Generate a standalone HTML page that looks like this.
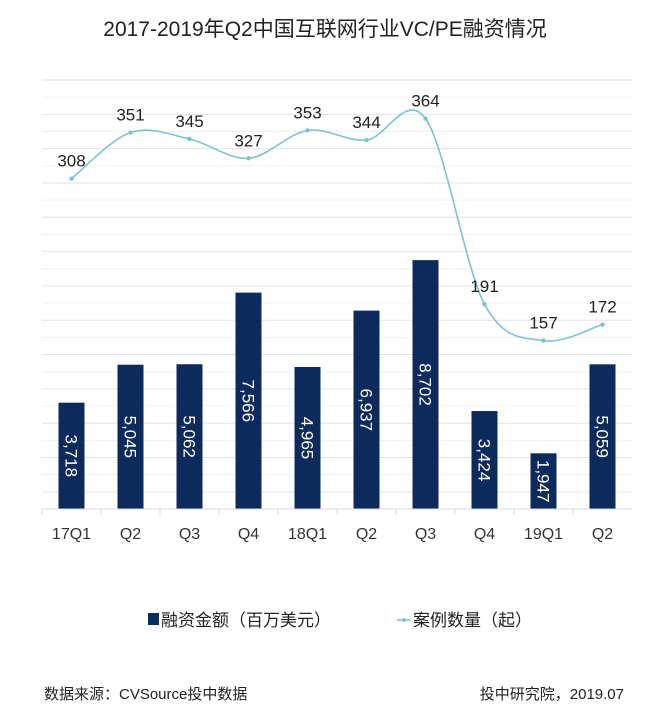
<!DOCTYPE html>
<html><head><meta charset="utf-8"><style>
body{margin:0;background:#fff;width:650px;height:718px;overflow:hidden;font-family:"Liberation Sans","Noto Sans CJK SC",sans-serif}
svg text{font-family:"Liberation Sans","Noto Sans CJK SC",sans-serif}
</style></head><body>
<svg id="chart" width="650" height="718" xmlns="http://www.w3.org/2000/svg">
<text x="325" y="36" text-anchor="middle" font-size="21" fill="#222">2017-2019年Q2中国互联网行业VC/PE融资情况</text>
<g id="grid"></g><g id="bars"></g><g id="line"></g><g id="xaxis"></g>
<g>
<rect x="148" y="613" width="11" height="12" fill="#0d2a5c"/>
<text x="161" y="626" font-size="17" fill="#222">融资金额（百万美元）</text>
<line x1="397" y1="620" x2="411" y2="620" stroke="#7cc3cf" stroke-width="1.5"/>
<circle cx="404" cy="620" r="2" fill="#7cc3cf"/>
<text x="413" y="626" font-size="17" fill="#222">案例数量（起）</text>
</g>
<text x="44" y="699" font-size="15" fill="#222">数据来源：CVSource投中数据</text>
<text x="624" y="699" font-size="15" fill="#222" text-anchor="end">投中研究院，2019.07</text>
</svg>
<script>
const categories=["17Q1","Q2","Q3","Q4","18Q1","Q2","Q3","Q4","19Q1","Q2"];
const amounts=[3718,5045,5062,7566,4965,6937,8702,3424,1947,5059];
const counts=[308,351,345,327,353,344,364,191,157,172];
const amountMax=15000, countMax=400;
const NS="http://www.w3.org/2000/svg";
const L=42,R=632,T=80,B=509;
const bw=(R-L)/categories.length;
const xc=i=>L+bw*(i+0.5);
const yA=v=>B-(v/amountMax)*(B-T);
const yC=v=>B-(v/countMax)*(B-T);
function mk(tag,attrs,parent){const e=document.createElementNS(NS,tag);for(const k in attrs)e.setAttribute(k,attrs[k]);parent.appendChild(e);return e;}
const grid=document.getElementById('grid');
for(let i=0;i<25;i++){const y=T+i*(B-T)/25;
const g=mk('line',{x1:L,x2:R,y1:y,y2:y,stroke:i%2?'#f0f0f0':'#e2e2e2','stroke-width':1},grid);

}
const bars=document.getElementById('bars');
amounts.forEach((v,i)=>{
const r=mk('rect',{x:xc(i)-13,y:yA(v),width:26,height:B-yA(v),fill:'#0d2a5c'},bars);


const cy=(yA(v)+B)/2;
const t=mk('text',{x:xc(i),y:cy+6,'font-size':17,fill:'#fff','text-anchor':'middle',transform:`rotate(90 ${xc(i)} ${cy})`},bars);
t.textContent=v.toLocaleString('en-US');


});
const lg=document.getElementById('line');
const pts=counts.map((v,i)=>[xc(i),yC(v)]);
let d=`M${pts[0][0]},${pts[0][1]}`;
for(let i=0;i<pts.length-1;i++){const p0=pts[i-1]||pts[i],p1=pts[i],p2=pts[i+1],p3=pts[i+2]||p2;
d+=` C${p1[0]+(p2[0]-p0[0])/6},${p1[1]+(p2[1]-p0[1])/6} ${p2[0]-(p3[0]-p1[0])/6},${p2[1]-(p3[1]-p1[1])/6} ${p2[0]},${p2[1]}`;}
const path=mk('path',{d:d,fill:'none',stroke:'#7cc3cf','stroke-width':1.6},lg);


pts.forEach((p,i)=>{
const c=mk('circle',{cx:p[0],cy:p[1],r:2.2,fill:'#7cc3cf'},lg);


const t=mk('text',{x:p[0],y:p[1]-12,'font-size':17,fill:'#222','text-anchor':'middle'},lg);
t.textContent=counts[i];


});
const xa=document.getElementById('xaxis');
const ax=mk('line',{x1:L,x2:R,y1:B,y2:B,stroke:'#d9d9d9'},xa);


categories.forEach((c,i)=>{
const tk=mk('line',{x1:L+bw*i,x2:L+bw*i,y1:B,y2:B+6,stroke:'#d9d9d9'},xa);


const t=mk('text',{x:xc(i),y:B+30,'font-size':16,fill:'#333','text-anchor':'middle'},xa);
t.textContent=c;


});
</script>
</body></html>
